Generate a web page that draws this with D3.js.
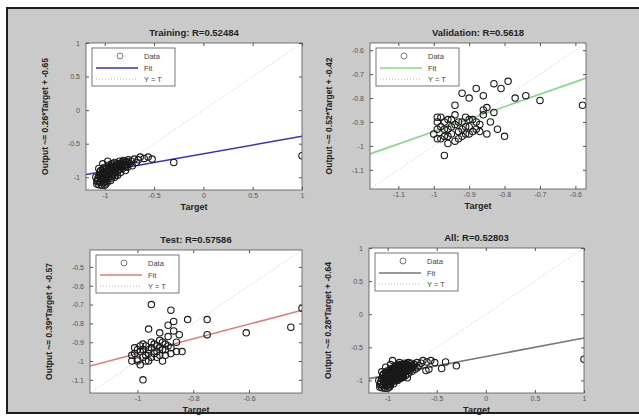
<!DOCTYPE html>
<html>
<head>
<meta charset="utf-8">
<script src="https://cdn.jsdelivr.net/npm/d3@7"></script>
<style>
  body { margin: 0; background: #fff; }
  svg { font-family: "Liberation Sans", Arial, sans-serif; }
</style>
</head>
<body>
<div id="chart"></div>
<script>
var panelNames = ["Training", "Validation", "Test", "All"];
var rValues = ["0.52484", "0.5618", "0.57586", "0.52803"];
var fitSlope = [0.26, 0.52, 0.39, 0.28];
var fitIntercept = [-0.65, -0.42, -0.57, -0.64];
var fitColors = ["#3434c0", "#86d886", "#e27a7a", "#777777"];

var axisLimits = [[-1.19, 1], [-1.18, -0.57], [-1.17, -0.41], [-1.19, 1]];
var xTicks = [[-1, -0.5, 0, 0.5, 1], [-1.1, -1, -0.9, -0.8, -0.7, -0.6], [-1, -0.8, -0.6], [-1, -0.5, 0, 0.5, 1]];
var yTicks = [[-1, -0.5, 0, 0.5, 1], [-1.1, -1, -0.9, -0.8, -0.7, -0.6], [-1.1, -1, -0.9, -0.8, -0.7, -0.6, -0.5], [-1, -0.5, 0, 0.5, 1]];

var legendLabels = ["Data", "Fit", "Y = T"];

// target / output pairs
var trainData = [
  [-1.08,-1.10],[-1.07,-1.05],[-1.06,-0.98],[-1.05,-1.08],[-1.05,-0.92],[-1.04,-1.02],[-1.03,-0.95],[-1.03,-1.12],
  [-1.02,-0.88],[-1.01,-1.00],[-1.00,-1.06],[-1.00,-0.93],[-0.99,-0.85],[-0.98,-0.97],[-0.98,-1.04],[-0.97,-0.90],
  [-0.96,-0.82],[-0.96,-1.00],[-0.95,-0.94],[-0.94,-0.87],[-0.94,-1.05],[-0.93,-0.80],[-0.92,-0.96],[-0.92,-0.90],
  [-0.91,-0.84],[-0.90,-1.00],[-0.90,-0.78],[-0.89,-0.92],[-0.88,-0.86],[-0.87,-0.81],[-0.87,-0.97],[-0.86,-0.89],
  [-0.85,-0.76],[-0.85,-0.84],[-0.84,-0.93],[-0.83,-0.79],[-0.82,-0.87],[-0.81,-0.75],[-0.80,-0.82],[-0.79,-0.90],
  [-0.78,-0.77],[-0.77,-0.85],[-0.76,-0.74],[-0.75,-0.80],[-0.73,-0.76],[-0.72,-0.83],[-0.70,-0.73],[-0.68,-0.78],
  [-0.66,-0.74],[-0.64,-0.70],[-0.60,-0.72],[-0.56,-0.70],[-0.52,-0.73],[-0.30,-0.78],[1.00,-0.68],[-1.02,-0.80],
  [-0.97,-0.76],[-1.09,-1.00],[-1.06,-0.87],[-0.99,-1.10],
  [-1.07,-1.02],[-1.06,-1.11],[-1.05,-0.96],[-1.04,-0.90],[-1.04,-1.06],[-1.03,-0.99],[-1.02,-1.04],[-1.02,-0.93],
  [-1.01,-0.86],[-1.01,-1.08],[-1.00,-0.97],[-0.99,-0.91],[-0.99,-1.01],[-0.98,-0.87],[-0.97,-0.95],[-0.97,-1.07],
  [-0.96,-0.89],[-0.95,-0.98],[-0.95,-0.84],[-0.94,-0.92],[-0.93,-1.01],[-0.93,-0.86],[-0.92,-0.82],[-0.91,-0.95],
  [-0.90,-0.88],[-0.89,-0.83],[-0.89,-0.97],[-0.88,-0.79],[-0.87,-0.91],[-0.86,-0.83],[-0.85,-0.88],[-0.84,-0.80],
  [-0.83,-0.84],[-0.82,-0.77],[-0.80,-0.79],[-0.79,-0.84],[-0.78,-0.81],[-0.76,-0.78],[-1.08,-1.06],[-1.00,-1.12]
];
var valData = [
  [-1.00,-0.95],[-0.99,-0.90],[-0.98,-0.97],[-0.98,-0.88],[-0.97,-0.93],[-0.96,-0.96],[-0.96,-0.89],[-0.95,-0.92],
  [-0.94,-0.98],[-0.94,-0.87],[-0.93,-0.94],[-0.93,-0.90],[-0.92,-0.96],[-0.91,-0.88],[-0.91,-0.92],[-0.90,-0.95],
  [-0.89,-0.89],[-0.88,-0.93],[-0.87,-0.91],[-0.86,-0.87],[-0.85,-0.95],[-0.84,-0.90],[-0.82,-0.93],[-0.80,-0.96],
  [-0.97,-1.04],[-0.94,-0.83],[-0.92,-0.78],[-0.90,-0.80],[-0.88,-0.76],[-0.86,-0.79],[-0.85,-0.84],[-0.83,-0.74],
  [-0.81,-0.76],[-0.79,-0.73],[-0.77,-0.80],[-0.74,-0.79],[-0.70,-0.81],[-0.58,-0.83],[-0.86,-0.85],[-0.83,-0.86],
  [-0.99,-0.93],[-0.99,-0.97],[-0.98,-0.92],[-0.97,-0.90],[-0.97,-0.96],[-0.96,-0.93],[-0.95,-0.95],[-0.95,-0.89],
  [-0.94,-0.91],[-0.93,-0.97],[-0.92,-0.93],[-0.92,-0.90],[-0.91,-0.95],[-0.90,-0.92],[-0.90,-0.89],[-0.89,-0.94],
  [-0.88,-0.90],[-0.87,-0.94],[-0.99,-0.88],[-0.96,-0.99]
];
var testData = [
  [-1.02,-0.97],[-1.01,-0.93],[-1.00,-0.99],[-0.99,-0.95],[-0.99,-1.02],[-0.98,-0.91],[-0.97,-0.97],[-0.96,-0.94],
  [-0.96,-1.00],[-0.95,-0.90],[-0.94,-0.96],[-0.93,-0.92],[-0.93,-0.98],[-0.92,-0.89],[-0.91,-0.94],[-0.90,-0.91],
  [-0.90,-0.97],[-0.89,-0.87],[-0.88,-0.93],[-0.87,-0.84],[-0.86,-0.90],[-0.85,-0.86],[-0.84,-0.95],[-0.96,-0.83],
  [-0.95,-0.70],[-0.88,-0.73],[-0.87,-0.79],[-0.82,-0.78],[-0.75,-0.78],[-0.75,-0.86],[-0.61,-0.85],[-0.45,-0.82],
  [-0.41,-0.72],[-0.98,-1.10],[-0.86,-0.95],[-0.91,-1.00],[-0.92,-0.85],[-0.89,-0.81],
  [-1.01,-0.96],[-1.00,-0.94],[-1.00,-1.00],[-0.99,-0.92],[-0.98,-0.98],[-0.98,-0.94],[-0.97,-0.92],[-0.97,-1.00],
  [-0.96,-0.96],[-0.95,-0.93],[-0.95,-0.98],[-0.94,-0.91],[-0.93,-0.95],[-0.92,-0.97],[-0.92,-0.93],[-0.91,-0.90],
  [-0.90,-0.94],[-0.89,-0.92],[-0.88,-0.96],[-1.02,-1.00]
];
var allData = trainData.concat(valData, testData);
var panelData = [trainData, valData, testData, allData];

var width = 639, height = 416;

var svg = d3.select("#chart").append("svg")
    .attr("width", width)
    .attr("height", height);

// grey figure window with dark frame
svg.append("rect")
    .attr("x", 7).attr("y", 8)
    .attr("width", 640).attr("height", 405)
    .attr("fill", "#cacaca")
    .attr("stroke", "#1e1e1e")
    .attr("stroke-width", 2);

var boxes = [
  {x: 86, y: 43, w: 216, h: 147},
  {x: 370, y: 43, w: 216, h: 146},
  {x: 90, y: 250, w: 212, h: 143},
  {x: 369, y: 248, w: 215, h: 145}
];

var fmt = function(d) { return String(+d.toFixed(2)); };

panelNames.forEach(function(name, i) {
    var b = boxes[i];
    var lim = axisLimits[i];

    var x = d3.scaleLinear().domain(lim).range([0, b.w]);
    var y = d3.scaleLinear().domain(lim).range([b.h, 0]);

    var g = svg.append("g").attr("transform", "translate(" + b.x + "," + b.y + ")");

    g.append("clipPath").attr("id", "clip" + i)
      .append("rect").attr("width", b.w).attr("height", b.h);

    g.append("rect")
        .attr("width", b.w).attr("height", b.h)
        .attr("fill", "#fff");

    var plot = g.append("g").attr("clip-path", "url(#clip" + i + ")");

    // Y = T
    plot.append("line")
        .attr("x1", x(lim[0])).attr("y1", y(lim[0]))
        .attr("x2", x(lim[1])).attr("y2", y(lim[1]))
        .attr("stroke", "#c4c4c4")
        .attr("stroke-width", 1)
        .attr("stroke-dasharray", "1,2");

    // fit
    var f = function(t) { return fitSlope[i] * t + fitIntercept[i]; };
    plot.append("line")
        .attr("x1", x(lim[0])).attr("y1", y(f(lim[0])))
        .attr("x2", x(lim[1])).attr("y2", y(f(lim[1])))
        .attr("stroke", fitColors[i])
        .attr("stroke-width", 1.6);

    plot.selectAll("circle.pt")
        .data(panelData[i])
        .enter().append("circle")
        .attr("class", "pt")
        .attr("cx", function(d) { return x(d[0]); })
        .attr("cy", function(d) { return y(d[1]); })
        .attr("r", 3.2)
        .attr("fill", "none")
        .attr("stroke", "#1a1a1a")
        .attr("stroke-width", 1.1);

    // axes, ticks inside on all four sides
    var xb = d3.axisBottom(x).tickValues(xTicks[i]).tickSize(-3).tickPadding(3).tickFormat(fmt);
    var yl = d3.axisLeft(y).tickValues(yTicks[i]).tickSize(-3).tickPadding(6).tickFormat(fmt);
    var xt = d3.axisTop(x).tickValues(xTicks[i]).tickSize(-3).tickFormat("");
    var yr = d3.axisRight(y).tickValues(yTicks[i]).tickSize(-3).tickFormat("");

    [g.append("g").attr("transform", "translate(0," + b.h + ")").call(xb),
     g.append("g").call(yl),
     g.append("g").call(xt),
     g.append("g").attr("transform", "translate(" + b.w + ",0)").call(yr)
    ].forEach(function(a) {
        a.select(".domain").remove();
        a.selectAll("line").attr("stroke", "#555");
        a.selectAll("text").attr("fill", "#555").attr("font-size", "7px");
    });

    g.append("rect")
        .attr("width", b.w).attr("height", b.h)
        .attr("fill", "none")
        .attr("stroke", "#555")
        .attr("stroke-width", 0.8);

    // legend
    var leg = g.append("g").attr("transform", "translate(6,5)");
    leg.append("rect")
        .attr("width", 83).attr("height", 38)
        .attr("fill", "#fff")
        .attr("stroke", "#555")
        .attr("stroke-width", 0.8);
    leg.append("circle")
        .attr("cx", 28).attr("cy", 8)
        .attr("r", 3)
        .attr("fill", "none").attr("stroke", "#555").attr("stroke-width", 0.8);
    leg.append("line")
        .attr("x1", 4).attr("x2", 46).attr("y1", 20).attr("y2", 20)
        .attr("stroke", fitColors[i]).attr("stroke-width", 1.6);
    leg.append("line")
        .attr("x1", 4).attr("x2", 46).attr("y1", 31).attr("y2", 31)
        .attr("stroke", "#b4b4b4").attr("stroke-width", 1)
        .attr("stroke-dasharray", "1,2");
    leg.selectAll("text.lg")
        .data(legendLabels)
        .enter().append("text")
        .attr("class", "lg")
        .attr("x", 52)
        .attr("y", function(d, k) { return 11 + k * 11.5; })
        .attr("font-size", "7.5px")
        .attr("fill", "#444")
        .text(function(d) { return d; });

    // title and labels
    g.append("text")
        .attr("x", b.w / 2).attr("y", -7)
        .attr("text-anchor", "middle")
        .attr("font-size", "9.5px")
        .attr("font-weight", "bold")
        .attr("fill", "#222")
        .text(name + ": R=" + rValues[i]);

    g.append("text")
        .attr("x", b.w / 2).attr("y", b.h + 20)
        .attr("text-anchor", "middle")
        .attr("font-size", "9px")
        .attr("font-weight", "bold")
        .attr("fill", "#222")
        .text("Target");

    g.append("text")
        .attr("transform", "translate(" + (-38) + "," + (b.h / 2) + ") rotate(-90)")
        .attr("text-anchor", "middle")
        .attr("font-size", "8.5px")
        .attr("font-weight", "bold")
        .attr("fill", "#222")
        .text("Output ~= " + fitSlope[i] + "*Target + " + fitIntercept[i]);
});
</script>
</body>
</html>
